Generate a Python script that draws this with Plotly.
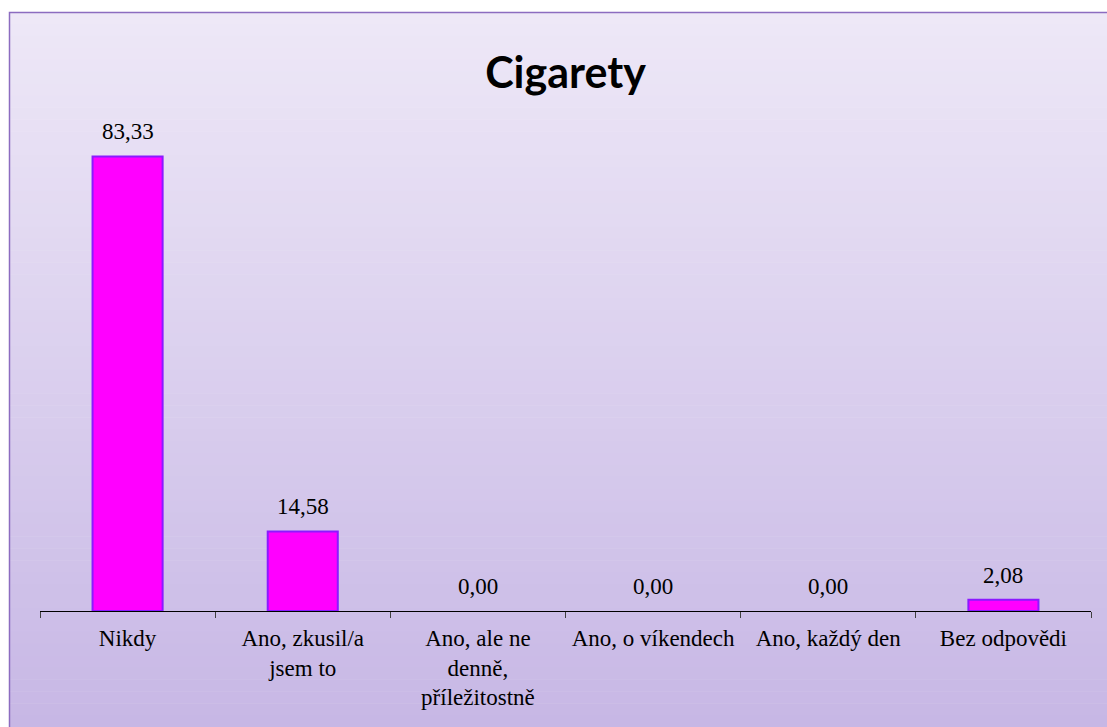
import plotly.graph_objects as go

categories = ["Nikdy", "Ano, zkusil/a<br>jsem to", "Ano, ale ne<br>denně,<br>příležitostně",
              "Ano, o víkendech", "Ano, každý den", "Bez odpovědi"]
values = [83.33, 14.58, 0.00, 0.00, 0.00, 2.08]
title_text = "Cigarety"

W, H = 1107, 727
L, R, T, B = 40, 16, 120, 116
pw, ph = W - L - R, H - T - B

def px_x(px):
    return (px - L) / pw

def px_y(py):
    return (H - B - py) / ph

fig = go.Figure()
fig.add_trace(go.Bar(
    x=categories, y=values, width=0.4,
    marker=dict(color="#FF00FF",
                line=dict(color="#8B1AFF", width=[2 if v > 0 else 0 for v in values])),
    hoverinfo="skip",
))

shapes = []
top = (238, 232, 247)
bot = (199, 183, 229)
n = 60
y_top_px, y_bot_px = 12, 727
for i in range(n):
    f = (i + 0.5) / n
    c = tuple(int(round(top[k] + (bot[k] - top[k]) * f)) for k in range(3))
    y0 = y_top_px + (y_bot_px - y_top_px) * i / n
    y1 = y_top_px + (y_bot_px - y_top_px) * (i + 1) / n + 0.5
    shapes.append(dict(type="rect", xref="paper", yref="paper",
                       x0=px_x(9), x1=px_x(W + 5), y0=px_y(y1), y1=px_y(y0),
                       fillcolor="rgb(%d,%d,%d)" % c, line=dict(width=0), layer="below"))
shapes.append(dict(type="rect", xref="paper", yref="paper",
                   x0=px_x(9.5), x1=px_x(W + 5), y0=px_y(H + 5), y1=px_y(12.5),
                   fillcolor="rgba(0,0,0,0)", line=dict(color="#8C6CC0", width=1.5), layer="below"))

annotations = []
for cat, v in zip(categories, values):
    annotations.append(dict(x=cat, y=v, text=f"{v:.2f}".replace(".", ","), showarrow=False,
                            yanchor="bottom", yshift=10,
                            font=dict(family="Liberation Serif", size=23, color="black")))

fig.update_layout(
    width=W, height=H,
    margin=dict(l=L, r=R, t=T, b=B, pad=0),
    paper_bgcolor="white", plot_bgcolor="rgba(0,0,0,0)",
    shapes=shapes, annotations=annotations,
    showlegend=False,
    title=dict(text="<b>" + title_text + "</b>", x=0.5, xref="paper", xanchor="center",
               y=1 - 73 / H, yref="container", yanchor="middle",
               font=dict(family="Lato", size=43, color="black")),
    xaxis=dict(type="category", range=[-0.5, len(categories) - 0.5],
               showline=True, linecolor="black", linewidth=1,
               ticks="outside", tickson="boundaries", ticklen=6, tickcolor="#404040",
               ticklabelstandoff=6,
               showgrid=False, zeroline=False,
               tickfont=dict(family="Liberation Serif", size=23, color="black")),
    yaxis=dict(range=[0, 90], visible=False, showgrid=False, zeroline=False),
)

fig.write_html("out.html", config={"displayModeBar": False},
               post_script="document.body.style.margin='0px';")
